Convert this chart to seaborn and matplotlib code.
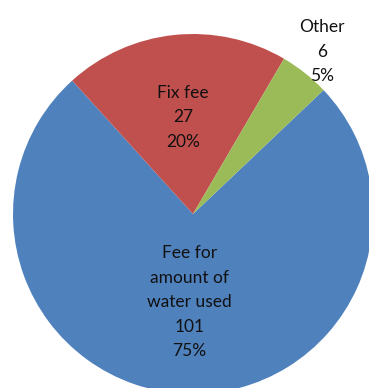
import numpy as np
import matplotlib
matplotlib.use('Agg')
import matplotlib.pyplot as plt
import seaborn as sns

# Dados do gráfico
categorias = ['Fee for\namount of\nwater used', 'Fix fee', 'Other']
valores = [101, 27, 6]
porcentagens = [75, 20, 5]  # como aparecem nos rótulos
cores = ['#4F81BD', '#C0504D', '#9BBB59']

sns.set_theme(style='white')
plt.rcParams['font.family'] = ['Lato', 'DejaVu Sans']

fig = plt.figure(figsize=(3.69, 3.88), dpi=100)
ax = fig.add_axes([0, 0, 1, 1])
fig.set_facecolor('white')

paleta = sns.color_palette(cores)

wedges, _ = ax.pie(valores, colors=paleta, startangle=43.5, counterclock=False,
                   radius=1, center=(0, 0), wedgeprops=dict(linewidth=0))

# distância do rótulo em relação ao centro, por fatia
dist_rotulo = [0.49, 0.54, 1.15]

for w, nome, v, pct, d in zip(wedges, categorias, valores, porcentagens, dist_rotulo):
    ang = np.deg2rad((w.theta1 + w.theta2) / 2)
    ax.text(d * np.cos(ang), d * np.sin(ang), f'{nome}\n{v}\n{pct}%',
            ha='center', va='center', fontsize=12.5, color='#111111',
            linespacing=1.65)

ax.set_xlim(-193 / 180, (369 - 193) / 180)
ax.set_ylim(-(388 - 214) / 180, 214 / 180)
ax.set_aspect('equal')
ax.axis('off')

fig.savefig('out.png', dpi=100)
